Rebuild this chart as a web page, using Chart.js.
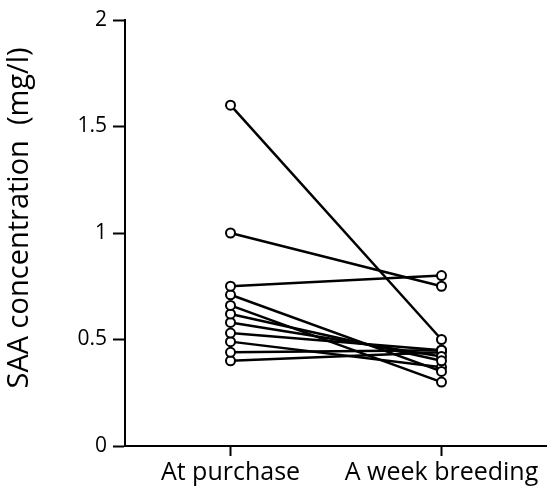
<!DOCTYPE html>
<html>
<head>
<meta charset="utf-8">
<script src="https://cdn.jsdelivr.net/npm/chart.js@4"></script>
<style>
	body { margin: 0; background: #fff; }
	#wrap { width: 547px; height: 492px; }
</style>
</head>
<body>
<div id="wrap"><canvas id="chart-saa"></canvas></div>
<script>
const categories = ['At purchase', 'A week breeding'];
// SAA (mg/l) per animal: value at purchase, value after a week breeding
const atPurchase = [1.60, 1.00, 0.75, 0.71, 0.66, 0.62, 0.58, 0.53, 0.49, 0.44, 0.40];
const weekBreeding = [0.50, 0.75, 0.80, 0.35, 0.30, 0.40, 0.42, 0.45, 0.37, 0.45, 0.44];
const yTicks = [0, 0.5, 1, 1.5, 2];

const datasets = atPurchase.map((v, i) => ({
	label: 'animal ' + (i + 1),
	data: [v, weekBreeding[i]],
	borderColor: '#000',
	borderWidth: 2.5,
	pointRadius: 4.5,
	pointBorderWidth: 2,
	pointBackgroundColor: '#fff',
	pointBorderColor: '#000',
	tension: 0,
}));

const config = {
	type: 'line',
	data: {
		labels: categories,
		datasets: datasets,
	},
	options: {
		responsive: true,
		maintainAspectRatio: false,
		animation: false,
		layout: {
			autoPadding: false,
			padding: { top: 20, right: 0, left: 0, bottom: 0 }
		},
		plugins: {
			legend: { display: false },
			tooltip: { enabled: false },
		},
		scales: {
			x: {
				type: 'category',
				offset: true,
				border: { color: '#000', width: 2 },
				grid: {
					drawOnChartArea: false,
					drawTicks: true,
					tickLength: 10,
					tickWidth: 2,
					color: '#000',
				},
				ticks: {
					color: '#000',
					padding: 2,
					maxRotation: 0,
					font: { family: 'Open Sans', size: 25 },
				},
				afterFit: (scale) => {
					scale.height = 46;
					scale.paddingLeft = 0;
					scale.paddingRight = 0;
				},
			},
			y: {
				min: 0,
				max: 2,
				afterBuildTicks: (scale) => {
					scale.ticks = yTicks.map(v => ({ value: v }));
				},
				border: { color: '#000', width: 2 },
				grid: {
					drawOnChartArea: false,
					drawTicks: true,
					tickLength: 12,
					tickWidth: 2,
					color: '#000',
				},
				ticks: {
					color: '#000',
					padding: 6,
					font: { family: 'Open Sans', size: 21 },
					callback: (v) => String(v),
				},
				title: {
					display: true,
					// leading spaces lift the title a little, as in the original
					text: '    SAA concentration  (mg/l)',
					color: '#000',
					padding: { top: 2, bottom: 0 },
					font: { family: 'Open Sans', size: 29 },
				},
				afterFit: (scale) => { scale.width = 125; },
			}
		}
	},
};

document.addEventListener('DOMContentLoaded', () => {
	const ctx = document.getElementById('chart-saa');
	const chartSaa = new Chart(ctx, config);
});
</script>
</body>
</html>
